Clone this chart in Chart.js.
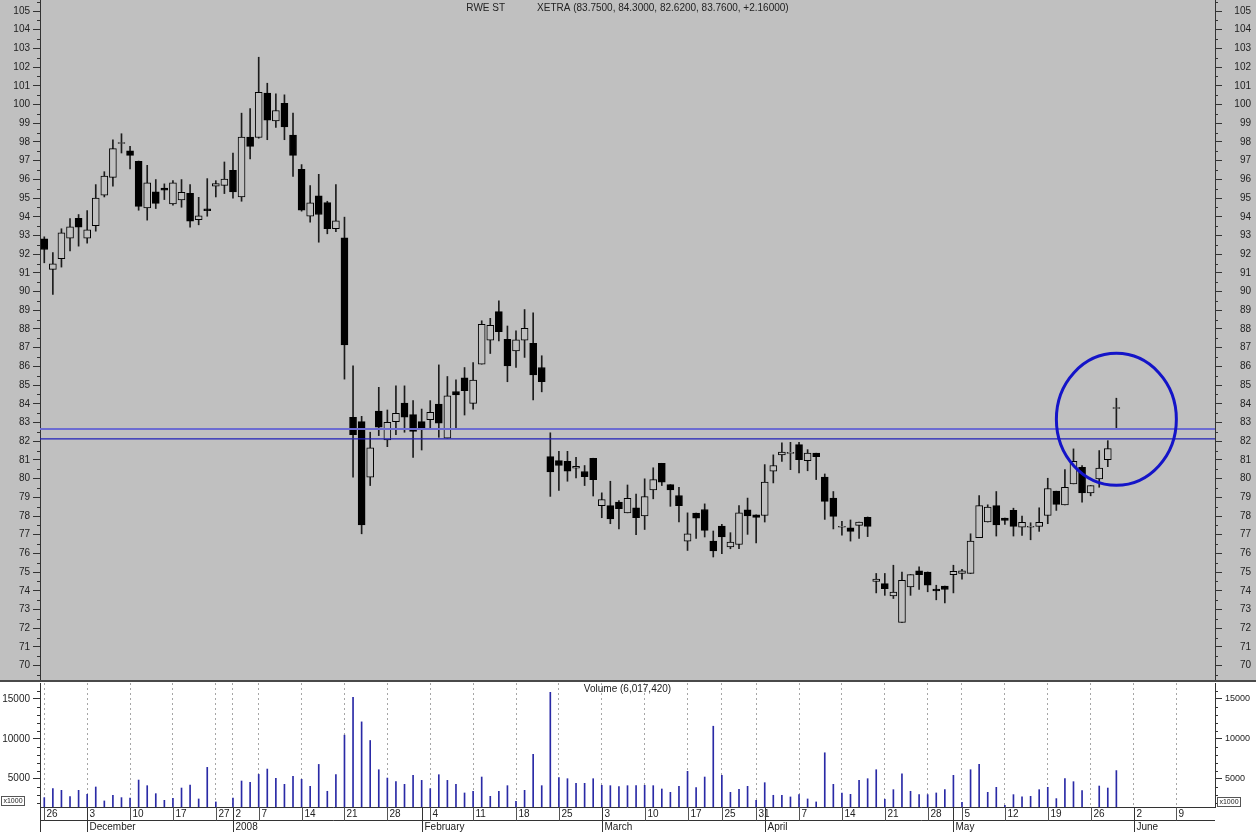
<!DOCTYPE html>
<html>
<head>
<meta charset="utf-8">
<title>RWE ST</title>
<script src="https://cdn.jsdelivr.net/npm/chart.js@4.4.1/dist/chart.umd.min.js"></script>
<style>
  body { margin: 0; background: #ffffff; }
  #board { position: relative; width: 1256px; height: 832px; }
  canvas { position: absolute; left: 0; }
  #price { top: 0; }
  #volume { top: 682px; }
</style>
</head>
<body>
<div id="board">
  <canvas id="price" width="1256" height="682"></canvas>
  <canvas id="volume" width="1256" height="150"></canvas>
</div>
<script>
// Xetra sessions, the last two weeks are empty slots on the right of the axis
const sessions = [
  ["2007-11", [26, 27, 28, 29, 30]],
  ["2007-12", [3, 4, 5, 6, 7, 10, 11, 12, 13, 14, 17, 18, 19, 20, 21, 27, 28]],
  ["2008-01", [2, 3, 4, 7, 8, 9, 10, 11, 14, 15, 16, 17, 18, 21, 22, 23, 24, 25, 28, 29, 30, 31]],
  ["2008-02", [1, 4, 5, 6, 7, 8, 11, 12, 13, 14, 15, 18, 19, 20, 21, 22, 25, 26, 27, 28, 29]],
  ["2008-03", [3, 4, 5, 6, 7, 10, 11, 12, 13, 14, 17, 18, 19, 20, 25, 26, 27, 28, 31]],
  ["2008-04", [1, 2, 3, 4, 7, 8, 9, 10, 11, 14, 15, 16, 17, 18, 21, 22, 23, 24, 25, 28, 29, 30]],
  ["2008-05", [2, 5, 6, 7, 8, 9, 12, 13, 14, 15, 16, 19, 20, 21, 22, 23, 26, 27, 28, 29, 30]],
  ["2008-06", [2, 3, 4, 5, 6, 9, 10, 11, 12, 13]]
];
const dates = sessions.flatMap(([m, days]) => days.map(d => m + "-" + String(d).padStart(2, "0")));

const opens = [
  92.82, 91.19, 91.76, 92.86, 93.92, 92.86, 93.53, 95.15, 96.11, 97.92,
  97.52, 96.96, 94.48, 95.33, 95.54, 94.69, 94.90, 95.26, 93.84, 94.42,
  95.63, 95.68, 96.48, 95.06, 98.26, 98.24, 100.61, 99.12, 100.06, 98.37,
  96.54, 94.03, 95.12, 94.76, 93.36, 92.88, 83.28, 83.05, 80.08, 83.61,
  82.07, 83.05, 84.04, 83.42, 83.05, 83.15, 83.99, 82.16, 84.66, 85.39,
  84.02, 86.12, 87.40, 88.93, 87.45, 86.83, 87.40, 87.24, 85.94, 81.18,
  80.96, 80.93, 80.56, 80.38, 81.09, 78.56, 78.56, 78.74, 78.17, 78.44,
  78.00, 79.40, 80.82, 79.68, 79.10, 76.66, 78.16, 78.35, 76.66, 77.46,
  76.35, 76.48, 78.33, 78.07, 78.03, 80.40, 81.27, 81.35, 81.82, 80.96,
  81.36, 80.08, 78.96, 77.40, 77.37, 77.50, 77.93, 74.51, 74.39, 73.73,
  72.31, 74.21, 75.07, 75.01, 74.09, 74.25, 74.87, 74.93, 74.93, 76.84,
  77.68, 78.56, 77.89, 78.30, 77.41, 77.40, 77.45, 78.03, 79.33, 78.60,
  79.72, 80.60, 79.24, 79.99, 81.02, 83.75
];
const highs = [
  92.93, 92.08, 93.36, 93.91, 94.12, 94.33, 95.72, 96.41, 98.12, 98.44,
  97.76, 96.98, 96.75, 95.99, 95.76, 95.93, 95.99, 95.72, 95.04, 96.04,
  95.93, 96.93, 97.41, 99.54, 99.79, 102.53, 101.14, 100.57, 100.52, 99.54,
  96.79, 95.67, 96.27, 94.83, 95.72, 93.98, 86.03, 83.33, 82.48, 84.88,
  83.67, 84.96, 84.96, 84.17, 83.72, 84.17, 86.08, 85.46, 85.28, 85.94,
  86.21, 88.44, 88.57, 89.50, 88.16, 87.90, 89.04, 88.87, 86.57, 82.45,
  81.46, 81.46, 81.14, 80.70, 81.09, 79.24, 79.86, 78.83, 79.66, 79.17,
  79.99, 80.58, 80.82, 79.68, 79.54, 78.17, 78.16, 78.65, 77.20, 77.55,
  77.11, 78.56, 78.96, 78.07, 80.75, 81.27, 81.91, 81.94, 81.94, 81.55,
  81.36, 80.25, 79.31, 77.72, 77.79, 77.68, 77.95, 74.93, 74.93, 75.37,
  75.01, 74.87, 75.28, 75.01, 74.30, 74.25, 75.37, 75.15, 77.05, 79.10,
  78.60, 79.31, 77.89, 78.42, 78.00, 77.64, 78.44, 80.02, 79.33, 80.48,
  81.59, 80.70, 79.63, 81.50, 82.03, 84.30
];
const lows = [
  91.54, 89.85, 91.31, 92.17, 92.43, 92.59, 93.23, 95.06, 95.63, 97.41,
  96.56, 94.35, 93.82, 94.44, 94.92, 94.62, 94.51, 93.44, 93.57, 94.03,
  95.06, 95.24, 95.00, 94.83, 97.09, 98.20, 98.12, 98.78, 98.12, 96.16,
  94.30, 93.71, 92.64, 93.09, 93.20, 85.32, 80.08, 77.05, 79.63, 82.30,
  81.71, 82.35, 82.48, 81.14, 81.53, 82.72, 82.21, 82.16, 82.70, 83.40,
  83.72, 86.12, 86.69, 87.36, 85.18, 85.94, 86.48, 84.21, 84.64, 79.05,
  79.37, 79.86, 80.04, 79.63, 79.07, 77.91, 77.59, 77.31, 78.17, 77.01,
  77.28, 78.92, 79.63, 78.52, 77.68, 76.16, 76.80, 76.88, 75.81, 75.99,
  76.25, 76.25, 77.02, 76.56, 77.68, 79.77, 80.92, 80.48, 80.31, 80.42,
  79.95, 77.82, 77.31, 76.98, 76.66, 76.80, 76.90, 73.89, 73.76, 73.59,
  72.31, 73.76, 74.07, 73.95, 73.52, 73.36, 73.89, 74.63, 74.93, 76.84,
  77.68, 76.93, 77.55, 76.93, 76.97, 76.73, 77.18, 77.59, 78.30, 78.60,
  79.72, 78.74, 79.08, 79.54, 80.64, 82.62
];
const closes = [
  92.25, 91.49, 93.14, 93.46, 93.44, 93.30, 95.00, 96.18, 97.64, 97.94,
  97.28, 94.56, 95.81, 94.72, 95.42, 95.81, 95.31, 93.76, 94.05, 94.32,
  95.77, 96.02, 95.33, 98.26, 97.76, 100.66, 99.17, 99.68, 98.81, 97.28,
  94.35, 94.74, 94.12, 93.36, 93.78, 87.15, 82.35, 77.53, 81.64, 82.75,
  83.01, 83.49, 83.28, 82.53, 82.62, 83.54, 82.96, 84.43, 84.48, 84.70,
  85.27, 88.25, 88.20, 87.86, 86.03, 87.42, 88.04, 85.54, 85.18, 80.36,
  80.70, 80.40, 80.66, 80.11, 79.95, 78.88, 77.85, 78.39, 78.95, 77.91,
  79.04, 79.95, 79.81, 79.40, 78.56, 77.05, 77.89, 77.23, 76.13, 76.88,
  76.61, 78.17, 78.00, 77.93, 79.81, 80.70, 81.42, 81.38, 81.02, 81.36,
  81.18, 78.78, 77.98, 77.42, 77.18, 77.68, 77.45, 74.63, 74.12, 73.94,
  74.56, 74.87, 74.87, 74.30, 74.00, 74.07, 75.05, 75.07, 76.66, 78.56,
  78.48, 77.53, 77.76, 77.45, 77.66, 77.42, 77.66, 79.47, 78.62, 79.54,
  80.93, 79.24, 79.63, 80.56, 81.60, 83.76
];
// volume in thousands of shares
const volumes = [
  2625, 3750, 3540, 2750, 3540, 3040, 3960, 2210, 2920, 2625,
  2580, 4830, 4125, 3125, 2290, 2540, 3830, 4210, 2460, 6420,
  2085, 1300, 2580, 4710, 4540, 5540, 6210, 5040, 4290, 5290,
  4920, 4040, 6790, 3420, 5500, 10460, 15210, 12125, 9790, 6125,
  5080, 4625, 4290, 5420, 4790, 3750, 5500, 4790, 4290, 3210,
  3420, 5210, 2790, 3420, 4125, 2170, 3540, 8040, 4125, 15830,
  5125, 5000, 4420, 4420, 5000, 4170, 4125, 4000, 4125, 4125,
  4170, 4125, 3710, 3290, 4040, 5920, 3875, 5210, 11580, 5420,
  3290, 3670, 4040, 2290, 4500, 2920, 2920, 2710, 3000, 2460,
  2085, 8250, 4290, 3210, 3040, 4790, 5000, 6125, 2420, 3625,
  5625, 3420, 3000, 3000, 3210, 3625, 5420, 2040, 6125, 6790,
  3290, 3920, 1670, 3000, 2710, 2790, 3625, 3920, 2500, 5000,
  4625, 3500, 1300, 4080, 3830, 6017
];

const priceTicks = [70, 71, 72, 73, 74, 75, 76, 77, 78, 79, 80, 81, 82, 83, 84, 85, 86, 87,
  88, 89, 90, 91, 92, 93, 94, 95, 96, 97, 98, 99, 100, 101, 102, 103, 104, 105];
const volumeTicks = [5000, 10000, 15000];

const levels = [82.65, 82.12];                      // the two drawn support lines
const marked = { day: "2008-05-29", price: 83.17 }; // circled last session

const monthNames = ["January", "February", "March", "April", "May", "June",
  "July", "August", "September", "October", "November", "December"];
const heading = ["RWE ST", "XETRA (83.7500, 84.3000, 82.6200, 83.7600, +2.16000)"];
const volumeHeading = "Volume (6,017,420)";

const FONT = "'Liberation Sans', Arial, sans-serif";
Chart.defaults.font.family = FONT;
Chart.defaults.font.size = 10;
Chart.defaults.color = "#222";

const weekday = d => new Date(d + "T00:00:00Z").getUTCDay();
const weekStarts = dates.map((d, i) => i === 0 || weekday(d) <= weekday(dates[i - 1]));
const monthStarts = dates.map((d, i) => i > 0 && d.slice(0, 7) !== dates[i - 1].slice(0, 7));
const monthLabel = d => d.slice(5, 7) === "01" ? d.slice(0, 4) : monthNames[Number(d.slice(5, 7)) - 1];

// short ticks between the labelled ones, both sides
function minorTicks(ctx, scale, a, from, to, step, major) {
  ctx.beginPath();
  for (let v = from; v <= to + 1e-9; v += step) {
    if (Math.abs(v / major - Math.round(v / major)) < 1e-9) continue;
    const py = Math.round(scale.getPixelForValue(v)) + 0.5;
    ctx.moveTo(a.left - 3, py); ctx.lineTo(a.left, py);
    ctx.moveTo(a.right, py); ctx.lineTo(a.right + 3, py);
  }
  ctx.stroke();
}

const sideAxis = (position, width, min, max, ticks, align, size) => ({
  position, min, max,
  afterFit: s => { s.width = width; s.paddingTop = 0; s.paddingBottom = 0; },
  afterBuildTicks: s => { s.ticks = ticks.map(v => ({ value: v })); },
  ticks: {
    stepSize: ticks[1] - ticks[0],
    autoSkip: false,
    includeBounds: false,
    padding: 3,
    crossAlign: align || "near",
    font: { size: size || 10 },
    callback: v => String(v)
  },
  grid: { drawOnChartArea: false, tickLength: 7, color: "#333" },
  border: { color: "#333" }
});

const priceDecor = {
  id: "priceDecor",
  beforeDraw(chart) {
    const ctx = chart.ctx;
    ctx.save();
    ctx.fillStyle = "#c0c0c0";
    ctx.fillRect(0, 0, chart.width, chart.height);
    ctx.restore();
  },
  afterDatasetsDraw(chart) {
    const { ctx, chartArea: a, scales: { x, y } } = chart;
    ctx.save();
    levels.forEach((v, k) => {
      const py = y.getPixelForValue(v);
      ctx.strokeStyle = k === 0 ? "#6c6cd2" : "#2020b8";
      ctx.lineWidth = k === 0 ? 2 : 1.2;
      ctx.beginPath(); ctx.moveTo(a.left, py); ctx.lineTo(a.right, py); ctx.stroke();
    });
    const cx = x.getPixelForValue(dates.indexOf(marked.day));
    const cy = y.getPixelForValue(marked.price);
    ctx.strokeStyle = "#1414c8";
    ctx.lineWidth = 3;
    ctx.beginPath(); ctx.ellipse(cx, cy, 60, 66, 0, 0, Math.PI * 2); ctx.stroke();
    ctx.restore();
  },
  afterDraw(chart) {
    const { ctx, chartArea: a, scales: { y } } = chart;
    ctx.save();
    ctx.strokeStyle = "#333"; ctx.lineWidth = 1;
    minorTicks(ctx, y, a, 69.5, 105.5, 0.5, 1);
    // title, centred over the plot
    ctx.font = "10px " + FONT; ctx.fillStyle = "#222"; ctx.textBaseline = "middle"; ctx.textAlign = "left";
    const gap = 32;
    const w0 = ctx.measureText(heading[0]).width, w1 = ctx.measureText(heading[1]).width;
    const tx = (a.left + a.right) / 2 - (w0 + gap + w1) / 2;
    ctx.fillText(heading[0], tx, 8);
    ctx.fillText(heading[1], tx + w0 + gap, 8);
    // panel separator
    ctx.fillStyle = "#4a4a4a";
    ctx.fillRect(0, chart.height - 2, chart.width, 2);
    ctx.restore();
  }
};

new Chart(document.getElementById("price"), {
  type: "bar",
  data: {
    labels: dates,
    datasets: [
      {
        label: "range",
        data: lows.map((l, i) => [l, highs[i]]),
        backgroundColor: "#1c1c1c",
        barThickness: 1,
        grouped: false,
        order: 2
      },
      {
        label: "body",
        data: opens.map((o, i) => [o, closes[i]]),
        backgroundColor: closes.map((c, i) => c < opens[i] ? "#000000" : "#c0c0c0"),
        borderColor: "#000000",
        borderWidth: 1,
        borderSkipped: false,
        barThickness: 7,
        minBarLength: 1,
        grouped: false,
        order: 1
      }
    ]
  },
  options: {
    responsive: false,
    animation: false,
    devicePixelRatio: 1,
    layout: { padding: { left: 0, right: 5, top: 0, bottom: 1 } },
    plugins: { legend: { display: false }, tooltip: { enabled: false } },
    scales: {
      x: { display: false, offset: true },
      y: sideAxis("left", 40, 69.18, 105.59, priceTicks),
      y1: sideAxis("right", 36, 69.18, 105.59, priceTicks, "far")
    }
  },
  plugins: [priceDecor]
});

const volumeDecor = {
  id: "volumeDecor",
  beforeDraw(chart) {
    const ctx = chart.ctx;
    ctx.save();
    ctx.fillStyle = "#ffffff";
    ctx.fillRect(0, 0, chart.width, chart.height);
    ctx.restore();
  },
  afterDraw(chart) {
    const { ctx, chartArea: a, scales: { x, y } } = chart;
    ctx.save();
    ctx.strokeStyle = "#333"; ctx.lineWidth = 1;
    minorTicks(ctx, y, a, 2000, 16000, 1000, 5000);

    // date rows under the volume panel
    const rowTop = Math.round(a.bottom) + 0.5, rowMid = rowTop + 13, rowEnd = chart.height;
    ctx.beginPath();
    ctx.moveTo(a.left, rowTop); ctx.lineTo(a.right, rowTop);
    ctx.moveTo(a.left, rowMid); ctx.lineTo(a.right, rowMid);
    ctx.moveTo(40.5, a.bottom); ctx.lineTo(40.5, rowEnd);
    ctx.stroke();

    ctx.font = "10px " + FONT; ctx.fillStyle = "#222"; ctx.textBaseline = "middle"; ctx.textAlign = "left";
    dates.forEach((d, i) => {
      const px = Math.round(x.getPixelForValue(i)) + 0.5;
      if (weekStarts[i]) {
        ctx.strokeStyle = "#555";
        ctx.beginPath(); ctx.moveTo(px, rowTop); ctx.lineTo(px, rowMid); ctx.stroke();
        ctx.fillText(String(Number(d.slice(8))), px + 2, rowTop + 7);
      }
      if (monthStarts[i]) {
        ctx.strokeStyle = "#333";
        ctx.beginPath(); ctx.moveTo(px, rowTop); ctx.lineTo(px, rowEnd); ctx.stroke();
        ctx.fillText(monthLabel(d), px + 2, rowMid + 6.5);
      }
    });

    ctx.textAlign = "center";
    ctx.fillText(volumeHeading, (a.left + a.right) / 2, a.top + 6.5);

    // unit boxes
    ctx.font = "7px " + FONT;
    ctx.strokeStyle = "#555";
    [[1.5, a.bottom - 10.5], [a.right + 2.5, a.bottom - 9.5]].forEach(([bx, by]) => {
      ctx.strokeRect(bx, by, 23, 9);
      ctx.fillText("x1000", bx + 11.5, by + 4.8);
    });
    ctx.restore();
  }
};

new Chart(document.getElementById("volume"), {
  type: "bar",
  data: {
    labels: dates,
    datasets: [{
      label: "Volume",
      data: volumes,
      backgroundColor: "#2a2aa6",
      barThickness: 1
    }]
  },
  options: {
    responsive: false,
    animation: false,
    devicePixelRatio: 1,
    layout: { padding: { left: 0, right: 5, top: 1, bottom: 0 } },
    plugins: { legend: { display: false }, tooltip: { enabled: false } },
    scales: {
      x: {
        offset: true,
        afterFit: s => { s.height = 25; s.paddingLeft = 0; s.paddingRight = 0; },
        ticks: { display: false, autoSkip: false },
        grid: {
          offset: false,
          drawTicks: false,
          color: ctx => weekStarts[ctx.index] ? "#a6a6a6" : "rgba(0,0,0,0)"
        },
        border: { display: false, dash: [2, 3] }
      },
      y: sideAxis("left", 40, 1450, 17000, volumeTicks),
      y1: sideAxis("right", 36, 1450, 17000, volumeTicks, "near", 9)
    }
  },
  plugins: [volumeDecor]
});
</script>
</body>
</html>
